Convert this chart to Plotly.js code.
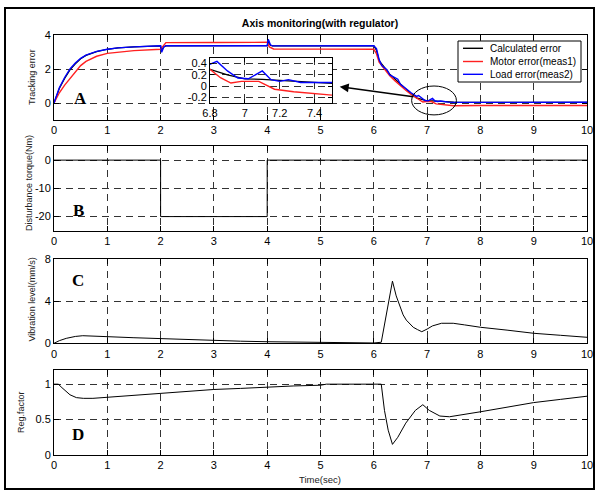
<!DOCTYPE html>
<html>
<head>
<meta charset="utf-8">
<script src="https://cdn.plot.ly/plotly-3.0.1.min.js"></script>
<style>html,body{margin:0;padding:0;background:#fff;}#chart{width:595px;height:491px;}</style>
</head>
<body>
<div id="chart"></div>
<script>
// ---------- DATA ----------
// Panel A: tracking errors
var tCalc   = [0,0.05,0.1,0.2,0.3,0.4,0.5,0.6,0.8,1.0,1.2,1.5,2.0,2.02,2.06,2.1,3,4.0,4.02,4.06,4.1,5,6.0,6.05,6.1,6.2,6.3,6.4,6.5,6.6,6.7,6.8,6.9,7.0,7.1,7.2,7.3,7.4,7.5,8,9,10];
var calcErr = [0,0.45,0.85,1.45,1.95,2.3,2.6,2.8,3.02,3.16,3.24,3.3,3.36,3.1,3.3,3.36,3.37,3.37,3.6,3.4,3.36,3.36,3.36,3.1,2.5,2.1,1.7,1.4,1.1,0.85,0.55,0.3,0.2,0.13,0.12,0.1,0.08,0.06,0.05,0.04,0.04,0.04];

var tMotor   = [0,0.05,0.1,0.2,0.3,0.4,0.5,0.6,0.8,1.0,1.2,1.5,2.0,2.04,2.1,3,4.0,4.04,4.08,4.12,5,6.0,6.05,6.1,6.2,6.3,6.4,6.5,6.6,6.7,6.8,6.86,6.92,6.98,7.08,7.17,7.28,7.4,7.5,8,9,10];
var motorErr = [0,0.3,0.6,1.05,1.45,1.85,2.2,2.45,2.75,2.92,3.0,3.08,3.16,3.3,3.55,3.56,3.57,3.3,3.25,3.18,3.17,3.16,2.9,2.4,2.0,1.6,1.3,1.0,0.75,0.5,0.3,0.15,0.055,0.085,0.085,-0.055,-0.1,-0.14,-0.16,-0.15,-0.15,-0.15];

var tLoad   = [0,0.05,0.1,0.2,0.3,0.4,0.5,0.6,0.8,1.0,1.2,1.5,2.0,2.02,2.06,2.1,3,4.0,4.02,4.06,4.1,5,6.0,6.05,6.1,6.15,6.2,6.25,6.3,6.35,6.4,6.45,6.5,6.55,6.6,6.7,6.75,6.8,6.84,6.9,6.96,7.02,7.1,7.15,7.2,7.25,7.32,7.4,7.5,8,9,10];
var loadErr = [0,0.5,0.9,1.5,2.0,2.35,2.63,2.82,3.04,3.16,3.24,3.3,3.37,2.98,3.3,3.37,3.37,3.37,3.75,3.42,3.36,3.35,3.37,3.2,2.55,2.2,2.05,1.95,1.65,1.55,1.45,1.4,1.1,1.0,0.85,0.6,0.5,0.39,0.44,0.27,0.145,0.13,0.27,0.115,0.085,0.115,0.065,0.05,0.035,0.04,0.04,0.04];

// Panel B: disturbance torque
var tDist = [0,2,2,4,4,10];
var dist  = [0,0,-20,-20,0,0];

// Panel C: vibration level
var tVib = [0,0.1,0.23,0.4,0.54,0.7,1.0,1.5,2,2.5,3,3.5,4,4.5,5,5.5,6,6.14,6.25,6.35,6.42,6.49,6.55,6.61,6.68,6.74,6.82,6.9,7.0,7.1,7.27,7.49,7.7,8,8.5,9,9.5,10];
var vib  = [0,0.25,0.47,0.65,0.72,0.7,0.63,0.53,0.44,0.34,0.25,0.2,0.15,0.11,0.08,0.05,0.03,0.1,3.0,5.9,4.5,3.47,2.7,2.2,1.8,1.52,1.3,1.1,1.35,1.65,1.9,1.9,1.75,1.52,1.25,0.95,0.76,0.57];

// Panel D: regulation factor
var tReg = [0,0.08,0.15,0.23,0.3,0.42,0.55,0.73,1.0,1.5,2,2.5,3,3.5,4,4.5,5,5.11,6,6.14,6.2,6.27,6.35,6.45,6.6,6.78,6.92,7.04,7.24,7.42,8,8.5,9,9.5,10];
var reg  = [1,1,0.95,0.89,0.85,0.81,0.8,0.8,0.815,0.85,0.88,0.9,0.925,0.94,0.96,0.975,0.985,1.0,1.0,1.0,0.63,0.35,0.15,0.25,0.45,0.63,0.71,0.63,0.55,0.54,0.61,0.675,0.74,0.785,0.83];

// Tick labels
var xTicks = [0,1,2,3,4,5,6,7,8,9,10];
var aTickVals = [0,2,4],        aTickText = ['0','2','4'];
var bTickVals = [-20,-10,0],    bTickText = ['-20','-10','0'];
var cTickVals = [0,4,8],        cTickText = ['0','4','8'];
var dTickVals = [0,0.5,1],      dTickText = ['0','0.5','1'];
var inXVals = [6.8,7,7.2,7.4],  inXText = ['6.8','7','7.2','7.4'];
var inYVals = [-0.2,0,0.2,0.4], inYText = ['-0.2','0','0.2','0.4'];

var seriesNames = ['Calculated error','Motor error(meas1)','Load error(meas2)'];

// ---------- LAYOUT HELPERS ----------
var W = 595, H = 491;
function px(x){ return x / W; }
function py(y){ return 1 - y / H; }
var FONT = 'Arial, "Liberation Sans", sans-serif';
var GRID = '#333';
var DASH = '7px,5px';

function xAxis(dom, anchor){
  return {domain: dom, anchor: anchor, range: [0,10], tickvals: xTicks, ticktext: xTicks.map(String),
    ticks: 'inside', ticklen: 5, tickcolor: '#000', showline: true, linecolor: '#000', linewidth: 1, mirror: 'ticks',
    showgrid: true, gridcolor: GRID, griddash: DASH, gridwidth: 1, zeroline: false,
    tickfont: {family: FONT, size: 11, color: '#000'}, fixedrange: true};
}
function yAxis(dom, anchor, rng, tv, tt){
  return {domain: dom, anchor: anchor, range: rng, tickvals: tv, ticktext: tt,
    ticks: 'inside', ticklen: 5, tickcolor: '#000', showline: true, linecolor: '#000', linewidth: 1, mirror: 'ticks',
    showgrid: true, gridcolor: GRID, griddash: DASH, gridwidth: 1, zeroline: false,
    tickfont: {family: FONT, size: 11, color: '#000'}, fixedrange: true};
}

var xDom = [px(54), px(587)];
var domA = [py(120), py(35)];
var domB = [py(230.7), py(146)];
var domC = [py(343.3), py(259)];
var domD = [py(455), py(370)];
var inXDom = [px(210), px(332)];
var inYDom = [py(103), py(58)];

var RED = '#ff2020', BLUE = '#0000ff', BLACK = '#000';
var seriesColors = [BLACK, RED, BLUE];

var traces = [
  {x: tCalc, y: calcErr, xaxis: 'x', yaxis: 'y', mode: 'lines', name: seriesNames[0], line: {color: BLACK, width: 1.2}},
  {x: tMotor, y: motorErr, xaxis: 'x', yaxis: 'y', mode: 'lines', name: seriesNames[1], line: {color: RED, width: 1.4}},
  {x: tLoad, y: loadErr, xaxis: 'x', yaxis: 'y', mode: 'lines', name: seriesNames[2], line: {color: BLUE, width: 1.4}},
  {x: tDist, y: dist, xaxis: 'x2', yaxis: 'y2', mode: 'lines', line: {color: BLACK, width: 1}},
  {x: tVib, y: vib, xaxis: 'x3', yaxis: 'y3', mode: 'lines', line: {color: BLACK, width: 1}},
  {x: tReg, y: reg, xaxis: 'x4', yaxis: 'y4', mode: 'lines', line: {color: BLACK, width: 1}},
  // inset
  {x: tCalc, y: calcErr, xaxis: 'x5', yaxis: 'y5', mode: 'lines', line: {color: BLACK, width: 1.2}},
  {x: tMotor, y: motorErr, xaxis: 'x5', yaxis: 'y5', mode: 'lines', line: {color: RED, width: 1.4}},
  {x: tLoad, y: loadErr, xaxis: 'x5', yaxis: 'y5', mode: 'lines', line: {color: BLUE, width: 1.4}}
];

var inX = xAxis(inXDom, 'y5'); inX.range = [6.8, 7.5]; inX.tickvals = inXVals; inX.ticktext = inXText; inX.ticklen = 4;
var inY = yAxis(inYDom, 'x5', [-0.3, 0.5], inYVals, inYText); inY.ticklen = 4;

function ann(text, x, y, opts){
  var a = {text: text, x: px(x), y: py(y), xref: 'paper', yref: 'paper', showarrow: false,
    xanchor: 'center', yanchor: 'middle', font: {family: FONT, size: 9, color: '#222'}};
  for (var k in opts) a[k] = opts[k];
  return a;
}
var letterFont = {family: '"Liberation Serif", "Times New Roman", serif', size: 17, color: '#000'};

var shapes = [
  {type: 'rect', xref: 'paper', yref: 'paper', x0: px(5), x1: px(594), y0: py(489), y1: py(8), line: {color: '#000', width: 2}, layer: 'above'},
  {type: 'circle', xref: 'x', yref: 'y', x0: 6.71, x1: 7.55, y0: -0.7, y1: 1.0, line: {color: '#000', width: 1}, layer: 'above'},
  // legend box
  {type: 'rect', xref: 'paper', yref: 'paper', x0: px(458), x1: px(581), y0: py(82), y1: py(41), line: {color: '#000', width: 1}, fillcolor: '#fff', layer: 'above'}
];
var annotations = [
  ann('Tracking error', 31.5, 77.5, {textangle: -90}),
  ann('Disturbance torque(Nm)', 29, 183, {textangle: -90}),
  ann('Vibration level(mm/s)', 31.5, 300, {textangle: -90}),
  ann('Reg.factor', 21, 412, {textangle: -90}),
  ann('Time(sec)', 320, 479, {font: {family: FONT, size: 9.5, color: '#222'}}),
  ann('<b>A</b>', 80, 98, {font: letterFont}),
  ann('<b>B</b>', 78, 210, {font: letterFont}),
  ann('<b>C</b>', 78, 280, {font: letterFont}),
  ann('<b>D</b>', 78, 434, {font: letterFont}),
  {x: 5.36, y: 0.96, xref: 'x', yref: 'y', ax: 6.77, ay: 0.35, axref: 'x', ayref: 'y', text: '', showarrow: true,
   arrowhead: 2, arrowsize: 1.2, arrowwidth: 1.5, arrowcolor: '#000'}
];
// hand-drawn legend entries (MATLAB-style compact legend)
var legRows = [48.3, 61.5, 74.3];
for (var i = 0; i < seriesNames.length; i++){
  shapes.push({type: 'line', xref: 'paper', yref: 'paper', x0: px(463), x1: px(483), y0: py(legRows[i]), y1: py(legRows[i]),
               line: {color: seriesColors[i], width: 1.4}, layer: 'above'});
  annotations.push(ann(seriesNames[i], 488, legRows[i], {xanchor: 'left', font: {family: FONT, size: 10, color: '#000'}}));
}

var layout = {
  width: W, height: H, autosize: false,
  margin: {l: 0, r: 0, t: 0, b: 0, pad: 0},
  paper_bgcolor: '#fff', plot_bgcolor: '#fff',
  title: {text: '<b>Axis monitoring(with regulator)</b>', x: px(320), y: py(23), xanchor: 'center', yanchor: 'middle',
          xref: 'paper', yref: 'paper', font: {family: FONT, size: 10.5, color: '#000'}},
  xaxis: xAxis(xDom, 'y'), yaxis: yAxis(domA, 'x', [-1, 4], aTickVals, aTickText),
  xaxis2: xAxis(xDom, 'y2'), yaxis2: yAxis(domB, 'x2', [-25, 5], bTickVals, bTickText),
  xaxis3: xAxis(xDom, 'y3'), yaxis3: yAxis(domC, 'x3', [0, 8], cTickVals, cTickText),
  xaxis4: xAxis(xDom, 'y4'), yaxis4: yAxis(domD, 'x4', [0, 1.2], dTickVals, dTickText),
  xaxis5: inX, yaxis5: inY,
  showlegend: false,
  shapes: shapes,
  annotations: annotations
};

Plotly.newPlot('chart', traces, layout, {staticPlot: true, displayModeBar: false});
</script>
</body>
</html>
